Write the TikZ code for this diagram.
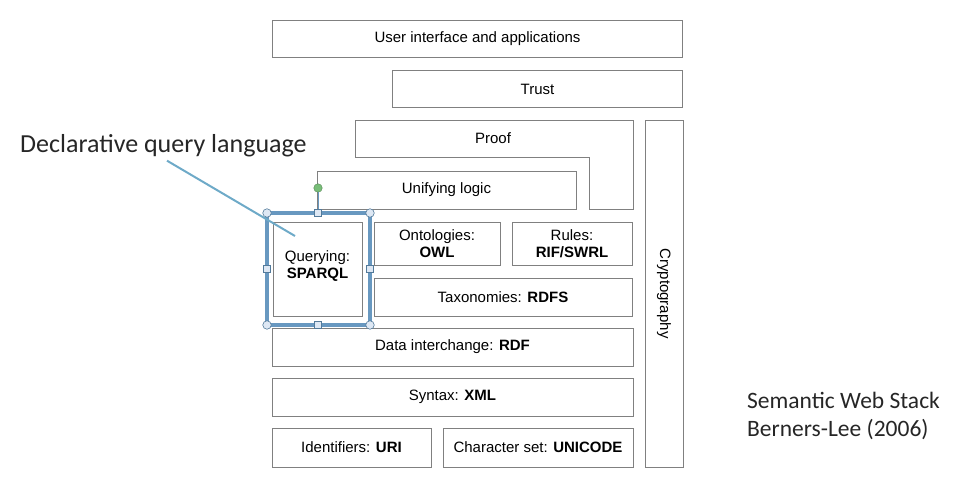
\documentclass[tikz,border=0pt]{standalone}
\usepackage{fontspec}
\setmainfont{Liberation Sans}
\newfontfamily\calibri{Carlito}
\usetikzlibrary{positioning}

\definecolor{linegray}{RGB}{128,128,128}
\definecolor{selblue}{RGB}{104,152,192}
\definecolor{handlefill}{RGB}{222,232,244}
\definecolor{callblue}{RGB}{110,170,200}
\definecolor{rotgreen}{RGB}{120,190,120}

\tikzset{
  layer/.style={draw=linegray, line width=0.8pt, inner sep=0pt, align=center,
    font=\fontsize{15}{17}\selectfont},
  cornerhandle/.style={circle, draw=selblue!80!black, fill=handlefill, line width=0.6pt,
    minimum size=8.5pt, inner sep=0pt},
  sidehandle/.style={rectangle, draw=selblue!80!black, fill=handlefill, line width=0.6pt,
    minimum size=7.5pt, inner sep=0pt},
  note/.style={font=\calibri\fontsize{23.5}{28}\selectfont, text=black!85, inner sep=0pt}
}

\begin{document}
\begin{tikzpicture}[x=1pt,y=-1pt]
            \useasboundingbox (0,0) rectangle (958,479);
            % top of the stack
            \node [layer, minimum width=410pt, minimum height=37pt] (ui) at (477.5,38.5) {User interface and applications};
            \node [layer, minimum width=290pt, minimum height=37pt] (trust) at (537.5,89) {Trust};
            \draw [linegray, line width=0.8pt] (355,120) -- (633,120) -- (633,209) -- (589,209) -- (589,157) -- (355,157) -- cycle;
            \node [font=\fontsize{15}{17}\selectfont] (proof) at (493,138.5) {Proof};
            \node [layer, minimum width=259pt, minimum height=38pt] (unify) at (446.5,190) {Unifying logic};
            % middle layers
            \node [layer, minimum width=89pt, minimum height=94pt] (query) at (317.5,269) {};
            \node [font=\fontsize{15}{17}\selectfont, align=center] at (317.5,266) {Querying:\\\textbf{SPARQL}};
            \node [layer, minimum width=126pt, minimum height=43pt] (onto) at (437,243.5) {Ontologies:\\\textbf{OWL}};
            \node [layer, minimum width=120pt, minimum height=43pt] (rules) at (572,243.5) {Rules:\\\textbf{RIF/SWRL}};
            \node [layer, minimum width=258pt, minimum height=38pt] (taxo) at (503,297) {Taxonomies: \textbf{RDFS}};
            \node [layer, minimum width=361pt, minimum height=38pt] (rdf) at (452.5,347) {Data interchange: \textbf{RDF}};
            \node [layer, minimum width=361pt, minimum height=38pt] (xml) at (452.5,397) {Syntax: \textbf{XML}};
            \node [layer, minimum width=159pt, minimum height=39pt] (uri) at (351.5,447.5) {Identifiers: \textbf{URI}};
            \node [layer, minimum width=190pt, minimum height=39pt] (unicode) at (538,447.5) {Character set: \textbf{UNICODE}};
            \node [layer, minimum width=38pt, minimum height=347pt] (crypto) at (664,293.5) {};
            \node [rotate=-90, font=\fontsize{15}{17}\selectfont] at (crypto.center) {Cryptography};
            % selection around the querying box
            \coordinate (selnw) at (267,213);
            \coordinate (selse) at (370,325);
            \draw [selblue, line width=3.5pt] (selnw) rectangle (selse);
            \node [circle, draw=rotgreen!70!black, fill=rotgreen, minimum size=8.5pt, inner sep=0pt] (rotate) at (318,188) {};
            \draw [selblue, line width=0.8pt] (rotate) -- (318,213);
            \foreach \hx/\hy in {267/213, 370/213, 267/325, 370/325}
              \node [cornerhandle] at (\hx,\hy) {};
            \foreach \hx/\hy in {318/213, 318/325, 267/269, 370/269}
              \node [sidehandle] at (\hx,\hy) {};
            % callout and caption
            \node [note, font=\calibri\fontsize{26}{30}\selectfont, anchor=base west] (decl) at (20,152) {Declarative query language};
            \coordinate (calltip) at (295,236);
            \draw [callblue, line width=2pt] (decl.south west) ++(147,4) -- (calltip);
            \node [note, anchor=base west, align=left] (caption) at (747,436) {Semantic Web Stack\\Berners-Lee (2006)};
\end{tikzpicture}
\end{document}
